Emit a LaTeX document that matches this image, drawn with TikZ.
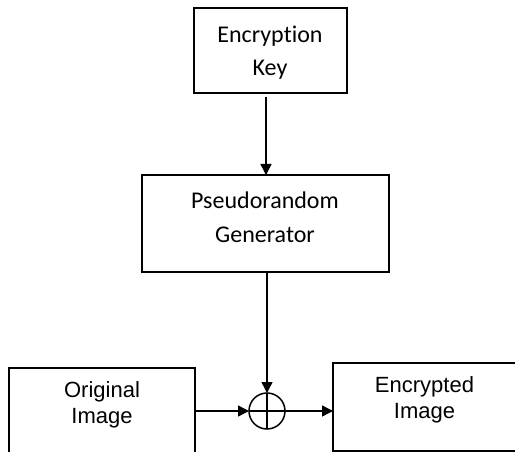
\documentclass[tikz,border=0pt]{standalone}
\usepackage{fontspec}
\setmainfont{Carlito}[Ligatures=NoCommon]
\newfontfamily\arialf{Liberation Sans}
\usetikzlibrary{arrows.meta}
\begin{document}
\begin{tikzpicture}[x=1pt,y=-1pt,
  boxst/.style={draw=black, line width=1.5pt, rectangle, inner sep=0pt, outer sep=0pt},
  arr/.style={line width=1.5pt, -{Triangle[length=11pt,width=11pt]}},
  cal/.style={font=\fontsize{24}{28}\selectfont, anchor=base, inner sep=0pt},
  ari/.style={font=\arialf\fontsize{22}{26}\selectfont, anchor=base, inner sep=0pt}]
\clip (0,0) rectangle (515,452);
\fill[white] (0,0) rectangle (515,452);
% boxes
\node[boxst, minimum width=153pt, minimum height=85pt] (key) at (270.5,50.5) {};
\node[boxst, minimum width=247pt, minimum height=97pt] (pr) at (265.5,223.5) {};
\node[boxst, minimum width=186pt, minimum height=88pt] (orig) at (102,412) {};
\node[boxst, minimum width=183pt, minimum height=88pt] (enc) at (424.5,407) {};
\node[draw=black, line width=1.5pt, circle, minimum size=36pt, inner sep=0pt, outer sep=0pt] (xor) at (267,411) {};
\coordinate (kx) at (266,0);
\draw[line width=1.5pt] (xor.north) -- (xor.south);
\draw[line width=1.5pt] (xor.west) -- (xor.east);
% texts
\node[cal] (t1) at (270,43) {Encryption};
\node[cal] (t2) at (270,76) {Key};
\node[cal] (t3) at (265,208) {Pseudorandom};
\node[cal] (t4) at (265,243) {Generator};
\node[ari] (t5) at (102,397) {Original};
\node[ari] (t6) at (102,423) {Image};
\node[ari] (t7) at (424.5,392) {Encrypted};
\node[ari] (t8) at (424.5,418) {Image};
% connectors
\draw[arr, shorten <=4pt] (key.south -| kx) -- (pr.north -| kx);
\draw[arr] (pr.south -| xor.north) -- (xor.north);
\draw[arr] (orig.east |- xor.west) -- (xor.west);
\draw[arr] (xor.east) -- (xor.east -| enc.west);
\end{tikzpicture}
\end{document}
